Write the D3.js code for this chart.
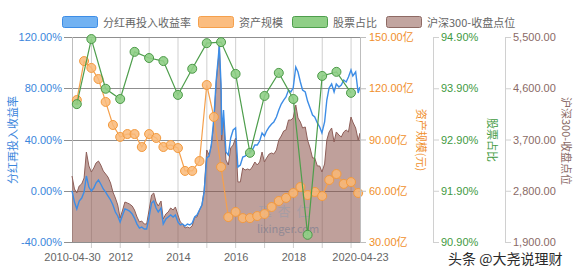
<!DOCTYPE html>
<html>
<head>
<meta charset="utf-8">
<script src="https://cdn.jsdelivr.net/npm/d3@7"></script>
<style>
  body { margin: 0; background: #fff; }
  svg text { font-family: "Noto Sans CJK SC", "Microsoft YaHei", sans-serif; }
  svg .tick text { font-family: "Liberation Sans", Arial, "Noto Sans CJK SC", sans-serif; }
</style>
</head>
<body>
<svg id="chart" width="575" height="269"></svg>
<script>
// monthly points (two extra points around the 2015 top)
const indexDates = [
  '2010-04-30','2010-05-31','2010-06-30','2010-07-30','2010-08-31','2010-09-30','2010-10-29','2010-11-30','2010-12-31',
  '2011-01-31','2011-02-28','2011-03-31','2011-04-29','2011-05-31','2011-06-30','2011-07-29','2011-08-31','2011-09-30','2011-10-31','2011-11-30','2011-12-30',
  '2012-01-31','2012-02-29','2012-03-30','2012-04-27','2012-05-31','2012-06-29','2012-07-31','2012-08-31','2012-09-28','2012-10-31','2012-11-30','2012-12-31',
  '2013-01-31','2013-02-28','2013-03-29','2013-04-26','2013-05-31','2013-06-28','2013-07-31','2013-08-30','2013-09-30','2013-10-31','2013-11-29','2013-12-31',
  '2014-01-30','2014-02-28','2014-03-31','2014-04-30','2014-05-30','2014-06-30','2014-07-31','2014-08-29','2014-09-30','2014-10-31','2014-11-28','2014-12-31',
  '2015-01-30','2015-02-27','2015-03-31','2015-04-30','2015-05-29','2015-06-08','2015-06-30','2015-07-08','2015-07-31','2015-08-31','2015-09-30','2015-10-30','2015-11-30','2015-12-31',
  '2016-01-29','2016-02-29','2016-03-31','2016-04-29','2016-05-31','2016-06-30','2016-07-29','2016-08-31','2016-09-30','2016-10-31','2016-11-30','2016-12-30',
  '2017-01-26','2017-02-28','2017-03-31','2017-04-28','2017-05-31','2017-06-30','2017-07-31','2017-08-31','2017-09-29','2017-10-31','2017-11-30','2017-12-29',
  '2018-01-31','2018-02-28','2018-03-30','2018-04-27','2018-05-31','2018-06-29','2018-07-31','2018-08-31','2018-09-28','2018-10-31','2018-11-30','2018-12-28',
  '2019-01-31','2019-02-28','2019-03-29','2019-04-30','2019-05-31','2019-06-28','2019-07-31','2019-08-30','2019-09-30','2019-10-31','2019-11-29','2019-12-31',
  '2020-01-23','2020-02-28','2020-03-31','2020-04-23'
];
// 分红再投入收益率 (%)
const reinvestReturn = [
  0.0, -8.8, -14.2, -8.0, -5.7, -1.0, 11.5, 2.9, -0.2,
  2.1, 6.0, 8.4, 5.3, 1.4, -1.0, -4.1, -7.2, -11.1, -16.6, -19.7, -24.4,
  -18.9, -14.2, -15.0, -15.8, -18.1, -21.3, -26.0, -29.1, -28.3, -29.9, -29.9, -20.5,
  -9.6, -8.0, -13.5, -16.6, -13.5, -26.0, -22.1, -20.5, -18.9, -20.5, -18.9, -24.4,
  -26.7, -26.0, -27.5, -26.0, -26.7, -25.2, -20.5, -18.9, -15.0, -11.1, -1.0, 25.6,
  27.1, 35.7, 56.8, 86.4, 106.0, 113.8, 82.5, 43.5, 63.0, 30.2, 27.9, 41.2, 47.4, 49.0,
  18.5, 20.1, 26.3, 27.1, 28.7, 29.5, 31.8, 35.7, 35.7, 38.8, 45.1, 42.7,
  46.6, 49.8, 52.1, 53.7, 57.6, 63.0, 67.7, 70.8, 73.2, 78.6, 77.1, 80.2,
  96.6, 92.7, 84.9, 78.6, 77.1, 70.0, 64.6, 59.1, 57.6, 52.9, 49.8, 45.1,
  53.7, 70.8, 80.2, 83.3, 77.1, 83.3, 81.0, 82.5, 86.4, 84.9, 88.8, 94.2,
  89.6, 92.7, 76.3, 81.0
];
// 沪深300 收盘点位
const hs300Close = [
  3059, 2831, 2760, 2883, 2919, 3024, 3480, 3235, 3129,
  3200, 3287, 3322, 3252, 3147, 3094, 3041, 2936, 2778, 2673, 2550, 2321,
  2462, 2602, 2585, 2567, 2532, 2462, 2339, 2251, 2269, 2216, 2216, 2462,
  2725, 2760, 2602, 2532, 2620, 2304, 2392, 2427, 2497, 2462, 2515, 2374,
  2251, 2216, 2146, 2163, 2146, 2181, 2339, 2339, 2462, 2550, 2813, 3516,
  3428, 3603, 3990, 4710, 5131, 5360, 4534, 3691, 4078, 3340, 3252, 3551, 3603, 3726,
  2954, 2954, 3200, 3164, 3182, 3164, 3217, 3305, 3252, 3305, 3480, 3305,
  3375, 3445, 3463, 3445, 3516, 3691, 3761, 3849, 3867, 4042, 4042, 4078,
  4306, 4078, 4007, 3902, 3920, 3691, 3551, 3375, 3375, 3235, 3235, 3129,
  3270, 3691, 3832, 3902, 3656, 3832, 3779, 3744, 3832, 3867, 3832, 4095,
  4007, 3902, 3691, 3814
];

// quarterly 资产规模 (亿)
const quarterDates = [
  '2010-06-30','2010-09-30','2010-12-31',
  '2011-03-31','2011-06-30','2011-09-30','2011-12-31',
  '2012-03-31','2012-06-30','2012-09-30','2012-12-31',
  '2013-03-31','2013-06-30','2013-09-30','2013-12-31',
  '2014-03-31','2014-06-30','2014-09-30','2014-12-31',
  '2015-03-31','2015-06-30','2015-09-30','2015-12-31',
  '2016-03-31','2016-06-30','2016-09-30','2016-12-31',
  '2017-03-31','2017-06-30','2017-09-30','2017-12-31',
  '2018-03-31','2018-06-30','2018-09-30','2018-12-31',
  '2019-03-31','2019-06-30','2019-09-30','2019-12-31',
  '2020-03-31'
];
const assetSize = [
  113.1, 135.9, 131.9,
  125.4, 112.0, 98.5, 91.5,
  93.2, 93.2, 85.6, 93.2,
  90.9, 85.6, 86.8, 85.0,
  71.6, 71.6, 77.4, 121.9,
  103.2, 73.9, 44.6, 47.6,
  44.0, 44.0, 45.2, 46.4,
  50.5, 54.0, 55.8, 58.7,
  62.2, 57.5, 59.3, 56.9,
  66.3, 69.8, 64.0, 65.1,
  58.7
];

// half-year 股票占比 (%)
const halfDates = [
  '2010-06-30','2010-12-31','2011-06-30','2011-12-31','2012-06-30','2012-12-31',
  '2013-06-30','2013-12-31','2014-06-30','2014-12-31','2015-06-30','2015-12-31',
  '2016-06-30','2016-12-31','2017-06-30','2017-12-31','2018-06-30','2018-12-31',
  '2019-06-30','2019-12-31'
];
const stockRatio = [
  93.59, 94.86, 93.89, 93.69, 94.61, 94.49,
  94.43, 93.77, 94.28, 94.78, 94.80, 94.18,
  92.64, 93.75, 94.20, 93.69, 91.04, 94.14,
  94.22, 93.81
];

// tick labels
const rateTicks = [-40, 0, 40, 80, 120];
const assetTicks = [30, 60, 90, 120, 150];
const stockTicks = [90.9, 91.9, 92.9, 93.9, 94.9];
const indexTicks = [1900, 2800, 3700, 4600, 5500];
const gridYears = ['2011','2012','2013','2014','2015','2016','2017','2018','2019','2020'];
const xLabelDates = ['2010-04-30','2012-01-01','2014-01-01','2016-01-01','2018-01-01','2020-04-23'];
const xLabels = ['2010-04-30','2012','2014','2016','2018','2020-04-23'];

const seriesNames = ['分红再投入收益率', '资产规模', '股票占比', '沪深300-收盘点位'];

const colors = {
  blue: '#3d8de6', blueText: '#3a86dc',
  orange: '#f5a04c', orangeText: '#f08f2c',
  green: '#4e9e4c', greenText: '#3f9a3f',
  brown: '#8e5f59', brownText: '#8a6a66'
};

const svg = d3.select('#chart');
const plot = { left: 72, right: 360, top: 37, bottom: 242 };

const parse = d3.timeParse('%Y-%m-%d');
const parseYear = d3.timeParse('%Y');

const indexData = indexDates.map((d, i) => ({ date: parse(d), ret: reinvestReturn[i], close: hs300Close[i] }));
const assetData = quarterDates.map((d, i) => ({ date: parse(d), v: assetSize[i] }));
const stockData = halfDates.map((d, i) => ({ date: parse(d), v: stockRatio[i] }));

const x = d3.scaleTime()
  .domain([parse('2010-04-30'), parse('2020-04-23')])
  .range([plot.left, plot.right]);
const yRate = d3.scaleLinear().domain([-40, 120]).range([plot.bottom, plot.top]);
const yAsset = d3.scaleLinear().domain([30, 150]).range([plot.bottom, plot.top]);
const yStock = d3.scaleLinear().domain([90.9, 94.9]).range([plot.bottom, plot.top]);
const yIndex = d3.scaleLinear().domain([1900, 5500]).range([plot.bottom, plot.top]);

// grid
const grid = svg.append('g');
grid.selectAll('.vgrid')
  .data(gridYears.map(parseYear))
  .join('line')
  .attr('x1', d => x(d)).attr('x2', d => x(d))
  .attr('y1', plot.top).attr('y2', plot.bottom + 6)
  .attr('stroke', '#cfcfcf').attr('stroke-width', 1);
grid.selectAll('.hgrid')
  .data(rateTicks)
  .join('line')
  .attr('x1', plot.left - 8).attr('x2', plot.right)
  .attr('y1', d => Math.round(yRate(d)) + 0.5).attr('y2', d => Math.round(yRate(d)) + 0.5)
  .attr('stroke', '#8f8f8f').attr('stroke-width', 1);
grid.append('line')
  .attr('x1', plot.left + 0.5).attr('x2', plot.left + 0.5)
  .attr('y1', plot.top).attr('y2', plot.bottom)
  .attr('stroke', '#bdbdbd');

// 沪深300 area
const area = d3.area()
  .x(d => x(d.date))
  .y0(plot.bottom)
  .y1(d => yIndex(d.close));
svg.append('path')
  .datum(indexData)
  .attr('d', area)
  .attr('fill', '#8a5248')
  .attr('fill-opacity', 0.55);
svg.append('path')
  .datum(indexData)
  .attr('d', d3.line().x(d => x(d.date)).y(d => yIndex(d.close)))
  .attr('fill', 'none')
  .attr('stroke', colors.brown)
  .attr('stroke-width', 1);

// 分红再投入收益率 line
svg.append('path')
  .datum(indexData)
  .attr('d', d3.line().x(d => x(d.date)).y(d => yRate(d.ret)))
  .attr('fill', 'none')
  .attr('stroke', colors.blue)
  .attr('stroke-width', 1.4);

// watermark
const wm = svg.append('g').attr('opacity', 0.45);
wm.append('text')
  .attr('x', 287).attr('y', 216)
  .attr('text-anchor', 'middle')
  .attr('font-size', 13)
  .attr('letter-spacing', 6)
  .attr('fill', '#8a9ab0')
  .text('理杏仁');
wm.append('text')
  .attr('x', 288).attr('y', 233)
  .attr('text-anchor', 'middle')
  .attr('font-size', 11)
  .attr('font-family', '"Liberation Sans", Arial, sans-serif')
  .attr('fill', '#5a6e8c')
  .text('lixinger.com');

// 资产规模
svg.append('path')
  .datum(assetData)
  .attr('d', d3.line().x(d => x(d.date)).y(d => yAsset(d.v)))
  .attr('fill', 'none')
  .attr('stroke', colors.orange)
  .attr('stroke-width', 1.2);
svg.selectAll('.asset-dot')
  .data(assetData)
  .join('circle')
  .attr('cx', d => x(d.date))
  .attr('cy', d => yAsset(d.v))
  .attr('r', 4.5)
  .attr('fill', '#f9b878')
  .attr('fill-opacity', 0.85)
  .attr('stroke', '#f39a3e')
  .attr('stroke-width', 1);

// 股票占比
svg.append('path')
  .datum(stockData)
  .attr('d', d3.line().x(d => x(d.date)).y(d => yStock(d.v)))
  .attr('fill', 'none')
  .attr('stroke', colors.green)
  .attr('stroke-width', 1.2);
svg.selectAll('.stock-dot')
  .data(stockData)
  .join('circle')
  .attr('cx', d => x(d.date))
  .attr('cy', d => yStock(d.v))
  .attr('r', 4.5)
  .attr('fill', '#8fcf86')
  .attr('fill-opacity', 0.9)
  .attr('stroke', '#4c9a48')
  .attr('stroke-width', 1);

// axes
function styleAxis(g, color, lineColor) {
  g.select('.domain').attr('stroke', lineColor);
  g.selectAll('.tick line').attr('stroke', lineColor);
  g.selectAll('.tick text').attr('fill', color).attr('font-size', 11);
}

const fmtPct = d => d.toFixed(2) + '%';

const leftAxis = svg.append('g')
  .attr('transform', `translate(${plot.left},0)`)
  .call(d3.axisLeft(yRate).tickValues(rateTicks).tickFormat(fmtPct).tickSize(0).tickPadding(10));
leftAxis.select('.domain').remove();
leftAxis.selectAll('.tick text').attr('fill', colors.blueText).attr('font-size', 11);

const assetAxis = svg.append('g')
  .attr('transform', `translate(${plot.right},0)`)
  .call(d3.axisRight(yAsset).tickValues(assetTicks).tickFormat(d => d.toFixed(2) + '亿').tickSize(6).tickSizeOuter(0).tickPadding(3));
styleAxis(assetAxis, colors.orangeText, '#bdbdbd');

const stockAxis = svg.append('g')
  .attr('transform', 'translate(433,0)')
  .call(d3.axisRight(yStock).tickValues(stockTicks).tickFormat(fmtPct).tickSize(6).tickSizeOuter(0).tickPadding(2));
styleAxis(stockAxis, colors.greenText, '#d0d0d0');

const indexAxis = svg.append('g')
  .attr('transform', 'translate(505,0)')
  .call(d3.axisRight(yIndex).tickValues(indexTicks).tickFormat(d3.format(',.2f')).tickSize(6).tickSizeOuter(0).tickPadding(2));
styleAxis(indexAxis, colors.brownText, '#d0d0d0');

const xAxis = svg.append('g')
  .attr('transform', `translate(0,${plot.bottom})`)
  .call(d3.axisBottom(x).tickValues(xLabelDates.map(parse)).tickFormat((d, i) => xLabels[i]).tickSize(0).tickPadding(11));
xAxis.select('.domain').remove();
xAxis.selectAll('.tick text').attr('fill', '#666').attr('font-size', 11);

// axis names
const names = [
  { text: '分红再投入收益率', x: 12, y: 140, rot: -90, color: colors.blueText },
  { text: '资产规模(元)', x: 422, y: 140, rot: 90, color: colors.orangeText },
  { text: '股票占比', x: 493, y: 140, rot: 90, color: colors.greenText },
  { text: '沪深300-收盘点位', x: 567, y: 141, rot: 90, color: colors.brownText }
];
svg.selectAll('.axis-name')
  .data(names)
  .join('text')
  .attr('transform', d => `translate(${d.x},${d.y}) rotate(${d.rot})`)
  .attr('text-anchor', 'middle')
  .attr('dominant-baseline', 'central')
  .attr('font-size', 11)
  .attr('fill', d => d.color)
  .text(d => d.text);

// legend
const legendItems = [
  { name: seriesNames[0], x: 62, fill: '#72b2f2', stroke: '#3d8de6' },
  { name: seriesNames[1], x: 198, fill: '#fbbd80', stroke: '#f5a04c' },
  { name: seriesNames[2], x: 292, fill: '#8fcf86', stroke: '#4e9e4c' },
  { name: seriesNames[3], x: 386, fill: '#c2a5a0', stroke: '#8e6a64' }
];
const legend = svg.append('g');
const li = legend.selectAll('g').data(legendItems).join('g')
  .attr('transform', d => `translate(${d.x},16)`);
li.append('rect')
  .attr('x', 0.5).attr('y', 0.5)
  .attr('width', 35).attr('height', 11)
  .attr('rx', 2)
  .attr('fill', d => d.fill)
  .attr('stroke', d => d.stroke);
li.append('text')
  .attr('x', 41).attr('y', 6)
  .attr('dominant-baseline', 'central')
  .attr('font-size', 11)
  .attr('fill', '#666')
  .text(d => d.name);

// footer
svg.append('text')
  .attr('x', 448).attr('y', 264)
  .attr('font-size', 14)
  .attr('fill', '#2a2a2a')
  .attr('stroke', '#fff')
  .attr('stroke-width', 2.5)
  .attr('paint-order', 'stroke')
  .text('头条 @大尧说理财');
</script>
</body>
</html>
